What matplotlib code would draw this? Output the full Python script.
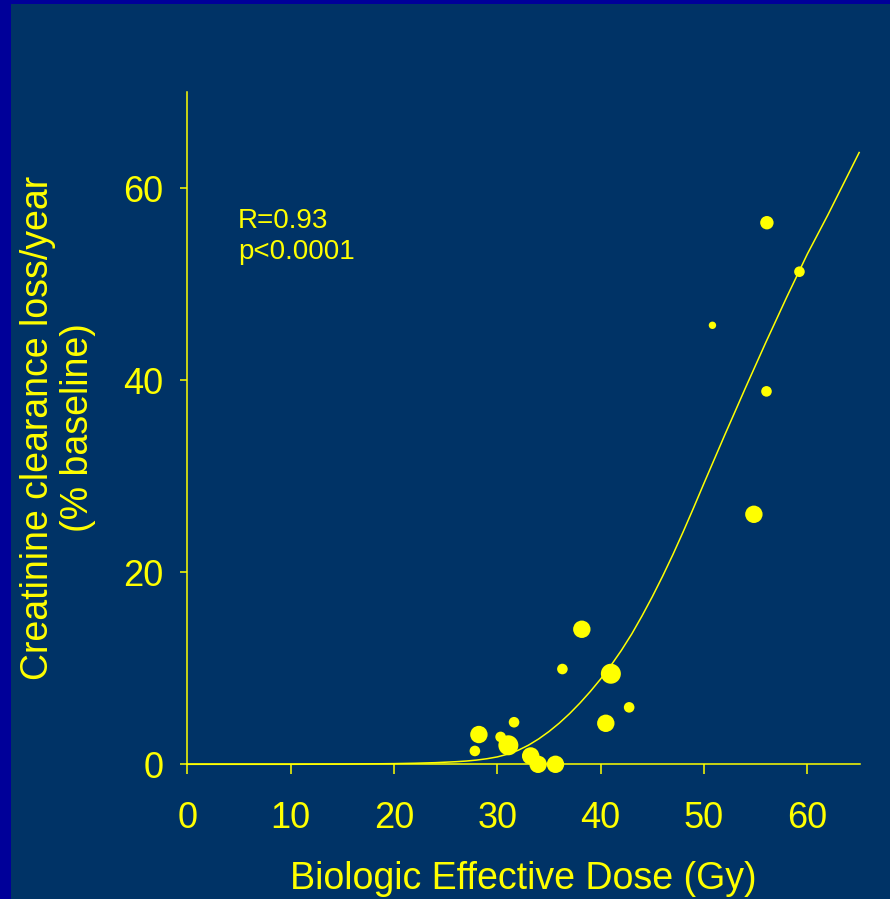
import numpy as np
import matplotlib
matplotlib.use("Agg")
import matplotlib.pyplot as plt
from matplotlib.patches import Rectangle

# --- datos ---
dose = [56.09, 59.24, 50.82, 56.05, 54.83, 38.18, 36.30, 40.99, 42.76, 40.50,
        31.62, 28.22, 27.83, 30.32, 31.07, 33.23, 33.95, 35.63]
loss = [56.39, 51.29, 45.71, 38.83, 26.03, 14.06, 9.92, 9.43, 5.93, 4.27,
        4.38, 3.10, 1.39, 2.85, 1.98, 0.87, 0.0, 0.0]
weight = [6.7, 5.3, 3.7, 5.3, 8.7, 8.7, 5.3, 10.0, 5.3, 8.7,
          5.3, 8.7, 5.3, 5.3, 10.0, 8.7, 8.7, 8.7]

# curva ajustada (puntos leídos sobre la línea)
fit_x = [0, 10, 15, 20, 22, 24, 26, 27, 28, 29, 30, 31, 32, 33, 34, 35, 36,
         37, 38, 39, 40, 41, 42, 43, 44, 45, 46, 47, 48, 49, 50, 52, 54, 56,
         58, 60, 62, 65.02]
fit_y = [0, 0, 0.02, 0.07, 0.11, 0.17, 0.27, 0.34, 0.44, 0.58, 0.77, 1.05,
         1.45, 1.98, 2.64, 3.41, 4.29, 5.28, 6.38, 7.58, 8.88, 10.3, 11.85,
         13.55, 15.44, 17.45, 19.59, 21.85, 24.24, 26.72, 29.26, 34.26, 39.16,
         43.96, 48.62, 53.12, 57.22, 63.7]

x_ticks = [0, 10, 20, 30, 40, 50, 60]
y_ticks = [0, 20, 40, 60]

YELLOW = "#FFFF00"
NAVY = "#003366"
BORDER = "#000099"

plt.rcParams["font.family"] = ["Liberation Sans", "DejaVu Sans"]

fig = plt.figure(figsize=(8.9, 8.99), dpi=100)
fig.patch.set_facecolor(BORDER)
fig.patches.append(Rectangle((11 / 890, 0), 1 - 11 / 890, 1 - 4 / 899,
                             transform=fig.transFigure, facecolor=NAVY,
                             edgecolor="none", zorder=-10))

ax = fig.add_axes([187.3 / 890, 1 - 764.3 / 899, (860 - 187.3) / 890, (764.3 - 92) / 899])
ax.set_facecolor("none")
ax.set_zorder(2)

ax.plot(fit_x, fit_y, color=YELLOW, linewidth=1.1, zorder=2, clip_on=False)
sizes = [(w * 1.44) ** 2 for w in weight]
ax.scatter(dose, loss, s=sizes, color=YELLOW, edgecolors="none", zorder=3, clip_on=False)

ax.set_xlim(0, 65.1)
ax.set_ylim(0, 70)
ax.set_xticks(x_ticks)
ax.set_yticks(y_ticks)

for side in ["top", "right"]:
    ax.spines[side].set_visible(False)
for side in ["left", "bottom"]:
    ax.spines[side].set_color(YELLOW)
    ax.spines[side].set_linewidth(1.1)

ax.tick_params(axis="x", direction="out", length=7.2, width=1.1, color=YELLOW,
               labelcolor=YELLOW, labelsize=26, pad=19)
ax.tick_params(axis="y", direction="out", length=5, width=1.1, color=YELLOW,
               labelcolor=YELLOW, labelsize=26, pad=12)

ax.set_xlabel("Biologic Effective Dose (Gy)", color=YELLOW, fontsize=27, labelpad=18.5)
fig.text(58 / 890, 1 - 428 / 899, "Creatinine clearance loss/year\n(% baseline)",
         rotation=90, ha="center", va="center", multialignment="center",
         color=YELLOW, fontsize=27, linespacing=1.15)

fig.text(238 / 890, 1 - 228.3 / 899, "R=0.93", color=YELLOW, fontsize=20,
         ha="left", va="baseline")
fig.text(238 / 890, 1 - 259.3 / 899, "p<0.0001", color=YELLOW, fontsize=20,
         ha="left", va="baseline")

fig.savefig("out.png", dpi=100, facecolor=fig.get_facecolor())
